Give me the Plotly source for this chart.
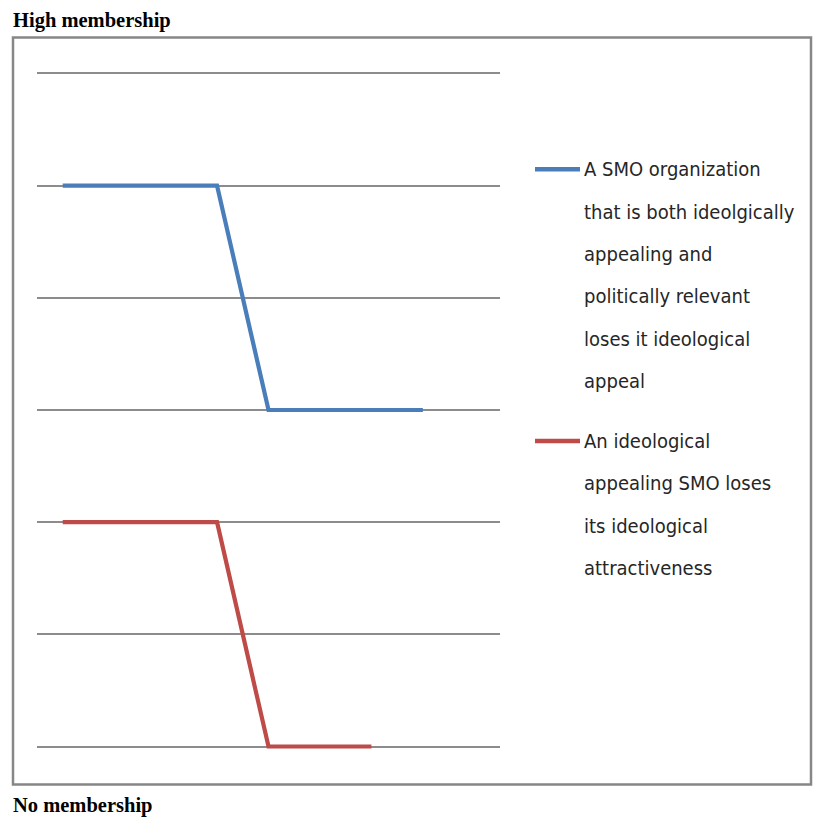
import plotly.graph_objects as go

categories = ["1", "2", "3", "4", "5", "6", "7", "8", "9"]
blue_values = [5, 5, 5, 5, 3, 3, 3, 3, None]
red_values = [2, 2, 2, 2, 0, 0, 0, None, None]
blue_name_lines = ["A SMO organization", "that is both ideolgically", "appealing and",
                   "politically relevant", "loses it ideological", "appeal"]
red_name_lines = ["An ideological", "appealing SMO loses", "its ideological", "attractiveness"]
top_label = "High membership"
bottom_label = "No membership"

W, H = 815, 826
# grid extent in pixels (value 6 at top, 0 at bottom)
GT, GB = 73, 747
unit = (GB - GT) / 6.0
pad_u = 0.04
e = pad_u * unit
L, R = 37, 500
T, B = GT - e, GB + e
pw, ph = R - L, B - T


def px(x):
    return (x - L) / pw


def py(y):
    return (B - y) / ph


BLUE = "#4A7EBB"
RED = "#BE4B48"
GRID = "#8C8C8C"

fig = go.Figure()
fig.add_trace(go.Scatter(x=categories, y=blue_values, mode="lines",
                         line=dict(color=BLUE, width=4.2), name=" ".join(blue_name_lines),
                         showlegend=False))
fig.add_trace(go.Scatter(x=categories, y=red_values, mode="lines",
                         line=dict(color=RED, width=4.2), name=" ".join(red_name_lines),
                         showlegend=False))

shapes = [
    dict(type="rect", xref="paper", yref="paper", x0=px(13), x1=px(811), y0=py(785), y1=py(37),
         line=dict(color="#878787", width=2.5), layer="below"),
    dict(type="line", xref="paper", yref="paper", x0=px(535), x1=px(580), y0=py(169), y1=py(169),
         line=dict(color=BLUE, width=4.5)),
    dict(type="line", xref="paper", yref="paper", x0=px(535), x1=px(580), y0=py(441), y1=py(441),
         line=dict(color=RED, width=4.5)),
]

LEG_FONT = dict(family="Liberation Sans Narrow, DejaVu Sans Condensed, sans-serif", size=20, color="#262626")
annotations = []
for i, t in enumerate(blue_name_lines):
    annotations.append(dict(text=t, xref="paper", yref="paper", x=px(582), y=py(169 + i * 42.4),
                            xanchor="left", yanchor="middle", showarrow=False, font=LEG_FONT))
for i, t in enumerate(red_name_lines):
    annotations.append(dict(text=t, xref="paper", yref="paper", x=px(582), y=py(441 + i * 42.5),
                            xanchor="left", yanchor="middle", showarrow=False, font=LEG_FONT))

TITLE_FONT = dict(family="Liberation Serif, Times New Roman, serif", size=20.5, color="black")
annotations.append(dict(text="<b>" + top_label + "</b>", xref="paper", yref="paper", x=px(11), y=py(20),
                        xanchor="left", yanchor="middle", showarrow=False, font=TITLE_FONT))
annotations.append(dict(text="<b>" + bottom_label + "</b>", xref="paper", yref="paper", x=px(11), y=py(806),
                        xanchor="left", yanchor="middle", showarrow=False, font=TITLE_FONT))

fig.update_layout(
    width=W, height=H,
    margin=dict(l=L, r=W - R, t=T, b=H - B, pad=0),
    paper_bgcolor="white", plot_bgcolor="white",
    xaxis=dict(type="category", range=[-0.5, 8.5], showgrid=False, showticklabels=False,
               ticks="", zeroline=False, showline=False, fixedrange=True),
    yaxis=dict(range=[-pad_u, 6 + pad_u], tickvals=[0, 1, 2, 3, 4, 5, 6], showgrid=True,
               gridcolor=GRID, gridwidth=1.5,
               showticklabels=False, ticks="", zeroline=False, showline=False, fixedrange=True),
    shapes=shapes, annotations=annotations,
)

fig.write_html("out.html", config={"displayModeBar": False},
               post_script="document.body.style.margin='0px';")
